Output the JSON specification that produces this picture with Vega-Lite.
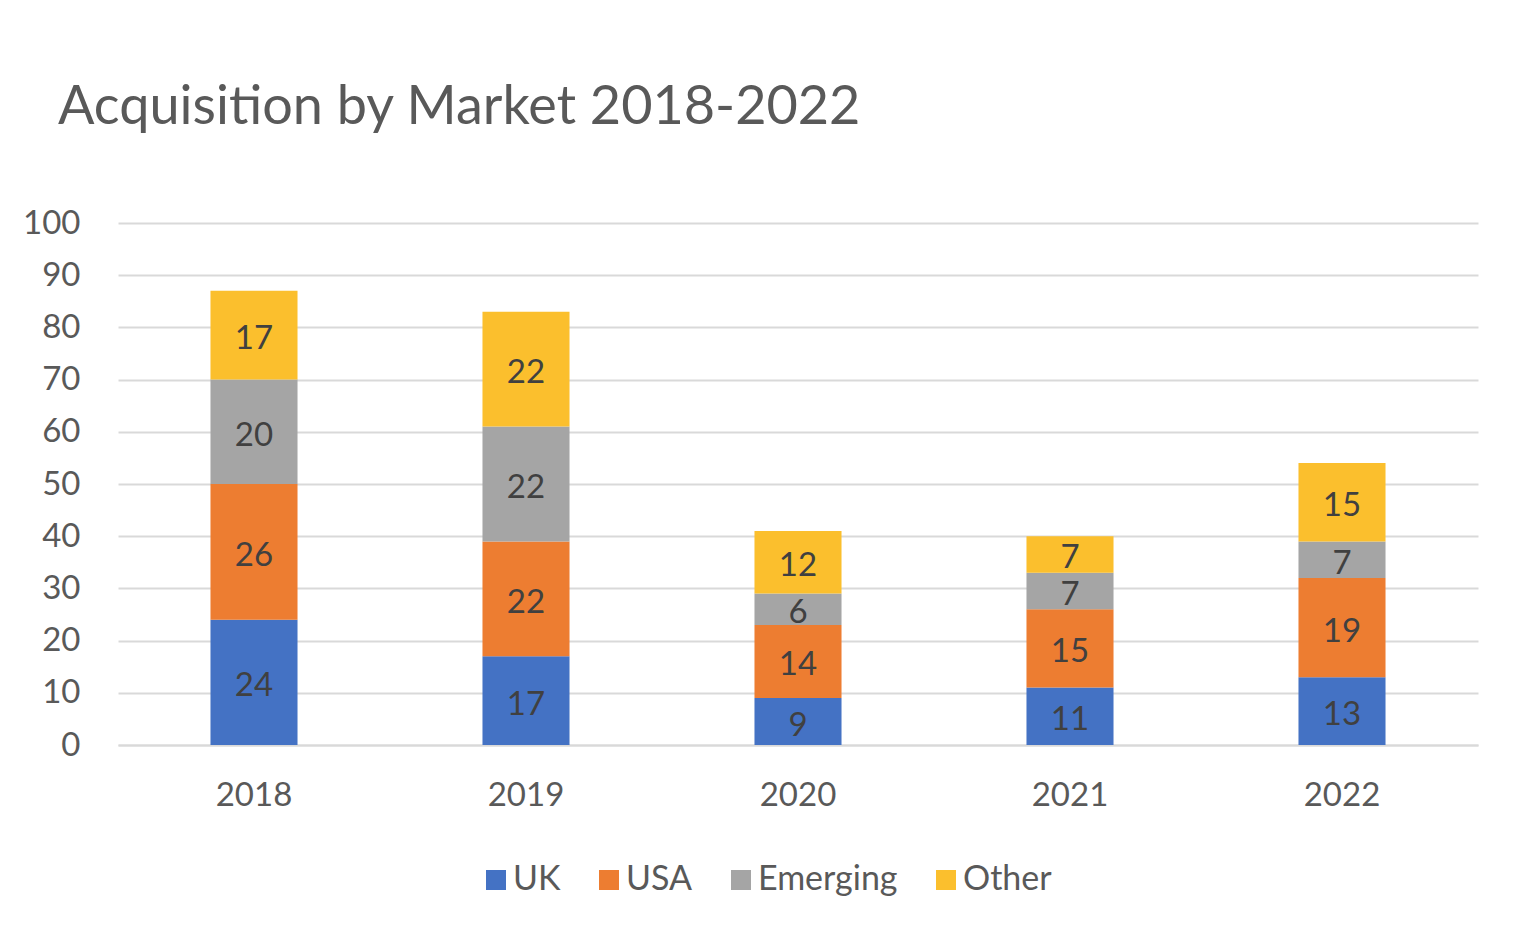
{
  "$schema": "https://vega.github.io/schema/vega-lite/v6.json",
  "autosize": "none",
  "width": 1360,
  "height": 522,
  "padding": {"left": 118, "top": 223, "right": 44, "bottom": 195},
  "background": "white",
  "title": {
    "text": "Acquisition by Market 2018-2022",
    "anchor": "start",
    "frame": "group",
    "orient": "top",
    "dx": -60,
    "offset": 29,
    "baseline": "alphabetic",
    "font": "Lato",
    "fontSize": 54,
    "fontWeight": "normal",
    "color": "#595959"
  },
  "config": {
    "view": {"stroke": null},
    "font": "Lato"
  },
  "datasets": {
    "acquisitions": [
      {"year": "2018", "market": "UK", "value": 24},
      {"year": "2018", "market": "USA", "value": 26},
      {"year": "2018", "market": "Emerging", "value": 20},
      {"year": "2018", "market": "Other", "value": 17},
      {"year": "2019", "market": "UK", "value": 17},
      {"year": "2019", "market": "USA", "value": 22},
      {"year": "2019", "market": "Emerging", "value": 22},
      {"year": "2019", "market": "Other", "value": 22},
      {"year": "2020", "market": "UK", "value": 9},
      {"year": "2020", "market": "USA", "value": 14},
      {"year": "2020", "market": "Emerging", "value": 6},
      {"year": "2020", "market": "Other", "value": 12},
      {"year": "2021", "market": "UK", "value": 11},
      {"year": "2021", "market": "USA", "value": 15},
      {"year": "2021", "market": "Emerging", "value": 7},
      {"year": "2021", "market": "Other", "value": 7},
      {"year": "2022", "market": "UK", "value": 13},
      {"year": "2022", "market": "USA", "value": 19},
      {"year": "2022", "market": "Emerging", "value": 7},
      {"year": "2022", "market": "Other", "value": 15}
    ],
    "markets": [
      {"market": "UK", "rank": 1},
      {"market": "USA", "rank": 2},
      {"market": "Emerging", "rank": 3},
      {"market": "Other", "rank": 4}
    ]
  },
  "data": {"name": "acquisitions"},
  "transform": [
    {"lookup": "market", "from": {"data": {"name": "markets"}, "key": "market", "fields": ["rank"]}}
  ],
  "encoding": {
    "x": {
      "field": "year",
      "type": "nominal",
      "scale": {"paddingInner": 0.68, "paddingOuter": 0.34},
      "axis": {
        "title": null,
        "labelAngle": 0,
        "labelFont": "Lato",
        "labelFontSize": 33,
        "labelColor": "#595959",
        "labelPadding": 34,
        "ticks": false,
        "domainColor": "#D9D9D9",
        "domainWidth": 2,
        "grid": false
      }
    },
    "order": {"field": "rank", "type": "quantitative", "sort": "ascending"}
  },
  "layer": [
    {
      "mark": {"type": "bar"},
      "encoding": {
        "y": {
          "field": "value",
          "type": "quantitative",
          "stack": "zero",
          "scale": {"domain": [0, 100], "nice": false},
          "axis": {
            "title": null,
            "values": [0, 10, 20, 30, 40, 50, 60, 70, 80, 90, 100],
            "labelFont": "Lato",
            "labelFontSize": 33,
            "labelColor": "#595959",
            "labelPadding": 38,
            "ticks": false,
            "domain": false,
            "gridColor": "#D9D9D9",
            "gridWidth": 2
          }
        },
        "color": {
          "field": "market",
          "type": "nominal",
          "sort": ["UK", "USA", "Emerging", "Other"],
          "scale": {
            "domain": ["UK", "USA", "Emerging", "Other"],
            "range": ["#4472C4", "#ED7D31", "#A5A5A5", "#FBBF2D"]
          },
          "legend": {
            "title": null,
            "orient": "none",
            "direction": "horizontal",
            "legendX": 361,
            "legendY": 640,
            "symbolType": "square",
            "symbolSize": 400,
            "symbolStrokeWidth": 0,
            "symbolOpacity": 1,
            "labelFont": "Lato",
            "labelFontSize": 34,
            "labelColor": "#595959",
            "labelOffset": 0,
            "columnPadding": 31
          }
        }
      }
    },
    {
      "mark": {"type": "text", "font": "Lato", "fontSize": 33, "fill": "#404040", "baseline": "middle", "dy": 4},
      "encoding": {
        "y": {"field": "value", "type": "quantitative", "stack": "zero", "bandPosition": 0.5},
        "detail": {"field": "market", "type": "nominal"},
        "text": {"field": "value", "type": "quantitative"}
      }
    }
  ]
}
